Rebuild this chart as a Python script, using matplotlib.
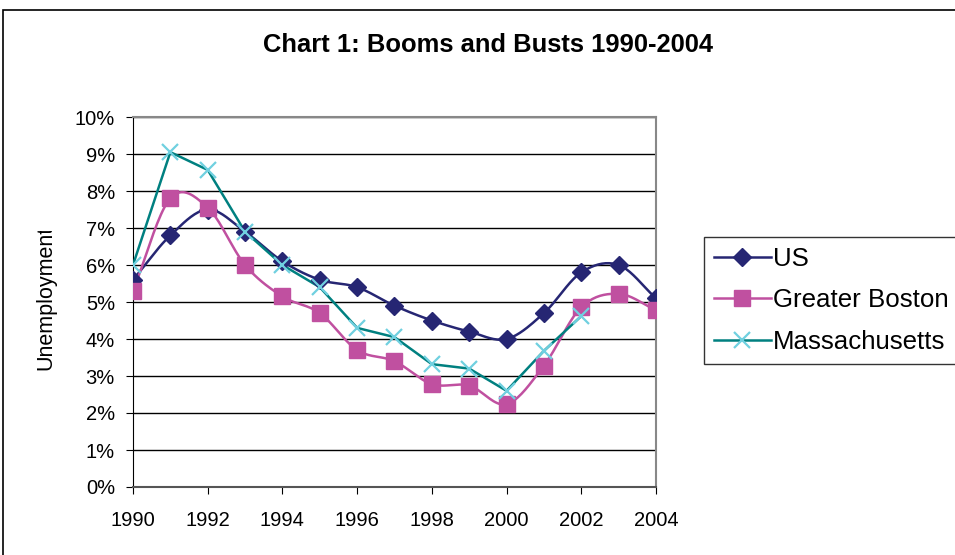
import matplotlib.pyplot as plt
import numpy as np
from matplotlib.patches import Rectangle
from matplotlib.ticker import FuncFormatter

plt.rcParams["font.family"] = ["Liberation Sans", "DejaVu Sans"]

years = [1990, 1991, 1992, 1993, 1994, 1995, 1996, 1997,
         1998, 1999, 2000, 2001, 2002, 2003, 2004]
us = [5.6, 6.8, 7.5, 6.9, 6.1, 5.6, 5.4, 4.9, 4.5, 4.2, 4.0, 4.7, 5.8, 6.0, 5.1]
boston = [5.3, 7.8, 7.55, 6.0, 5.15, 4.7, 3.7, 3.4, 2.78, 2.74, 2.24, 3.28,
          4.86, 5.22, 4.78]
mass_years = years[:13]
mass = [6.0, 9.05, 8.57, 6.9, 6.0, 5.4, 4.3, 4.05, 3.32, 3.2, 2.6, 3.68, 4.62]

x_ticks = list(range(1990, 2005, 2))
y_ticks = list(range(0, 11))


def smooth(x, y, steps=20):
    """Catmull-Rom curve through the points, like Excel's smoothed line."""
    x = np.asarray(x, float)
    y = np.asarray(y, float)
    px = np.concatenate([[2 * x[0] - x[1]], x, [2 * x[-1] - x[-2]]])
    py = np.concatenate([[2 * y[0] - y[1]], y, [2 * y[-1] - y[-2]]])
    xs, ys = [], []
    t = np.linspace(0, 1, steps, endpoint=False)
    for i in range(1, len(px) - 2):
        for p, out in ((px, xs), (py, ys)):
            p0, p1, p2, p3 = p[i - 1], p[i], p[i + 1], p[i + 2]
            out.append(0.5 * (2 * p1 + (-p0 + p2) * t
                              + (2 * p0 - 5 * p1 + 4 * p2 - p3) * t ** 2
                              + (-p0 + 3 * p1 - 3 * p2 + p3) * t ** 3))
    xs.append([x[-1]])
    ys.append([y[-1]])
    return np.concatenate(xs), np.concatenate(ys)


fig = plt.figure(figsize=(9.55, 5.55), dpi=100)
fig.patches.append(Rectangle((3 / 955, -0.1), 1.1, 1.1 - 10 / 555,
                             transform=fig.transFigure, fill=False,
                             edgecolor="black", linewidth=1.2))
ax = fig.add_axes([133 / 955, 1 - 487 / 555, 523 / 955, 370 / 555])

navy = "#262673"
pink = "#C050A0"
teal = "#008080"
cyan = "#70D0E0"

sx, sy = smooth(years, us)
ax.plot(sx, sy, color=navy, lw=1.8, zorder=3)
ax.plot(years, us, ls="none", marker="D", ms=9, color=navy, zorder=4)

sx, sy = smooth(years, boston)
ax.plot(sx, sy, color=pink, lw=1.8, zorder=3)
ax.plot(years, boston, ls="none", marker="s", ms=11, color=pink, zorder=4)

ax.plot(mass_years, mass, color=teal, lw=1.8, zorder=3)
ax.plot(mass_years, mass, ls="none", marker="x", ms=12, mew=1.6,
        color=cyan, zorder=5)

# legend proxies
h1, = ax.plot([], [], color=navy, lw=1.8, marker="D", ms=9)
h2, = ax.plot([], [], color=pink, lw=1.8, marker="s", ms=11)
h3, = ax.plot([], [], color=teal, lw=1.8, marker="x", ms=12, mew=1.6,
              mec=cyan)
leg = fig.legend([h1, h2, h3], ["US", "Greater Boston", "Massachusetts"],
                 loc="upper left", bbox_to_anchor=(704 / 955, 1 - 237 / 555),
                 fontsize=18.6, frameon=True, fancybox=False,
                 handlelength=2.2, labelspacing=0.68, borderpad=0.38,
                 handletextpad=0.1, borderaxespad=0)
leg.get_frame().set_edgecolor("black")
leg.get_frame().set_linewidth(1)

ax.set_xlim(1990, 2004)
ax.set_ylim(0, 10)
ax.set_xticks(x_ticks)
ax.set_yticks(y_ticks)
ax.yaxis.set_major_formatter(FuncFormatter(lambda v, p: f"{v:.0f}%"))
ax.tick_params(labelsize=14.5, length=5, direction="out", color="black")
ax.tick_params(axis="x", pad=12)
ax.tick_params(axis="y", pad=8)
ax.grid(axis="y", color="black", lw=1)
ax.set_axisbelow(True)
for side in ("top", "right"):
    ax.spines[side].set_color("#888888")
    ax.spines[side].set_linewidth(1.5)
ax.spines["left"].set_color("black")
ax.spines["bottom"].set_color("#555555")
ax.spines["bottom"].set_linewidth(1.5)

ylab = fig.text(46 / 955, 1 - 298 / 555, "Unemployment", rotation=90,
                fontsize=15.5, ha="center", va="center")
clip = Rectangle((0, 0), 1, 1 - 231 / 555, transform=fig.transFigure)
ylab.set_clip_path(clip)
fig.text(488 / 955, 1 - 45 / 555, "Chart 1: Booms and Busts 1990-2004",
         fontsize=18.4, fontweight="bold", ha="center", va="center")

fig.savefig("out.png", dpi=100)
